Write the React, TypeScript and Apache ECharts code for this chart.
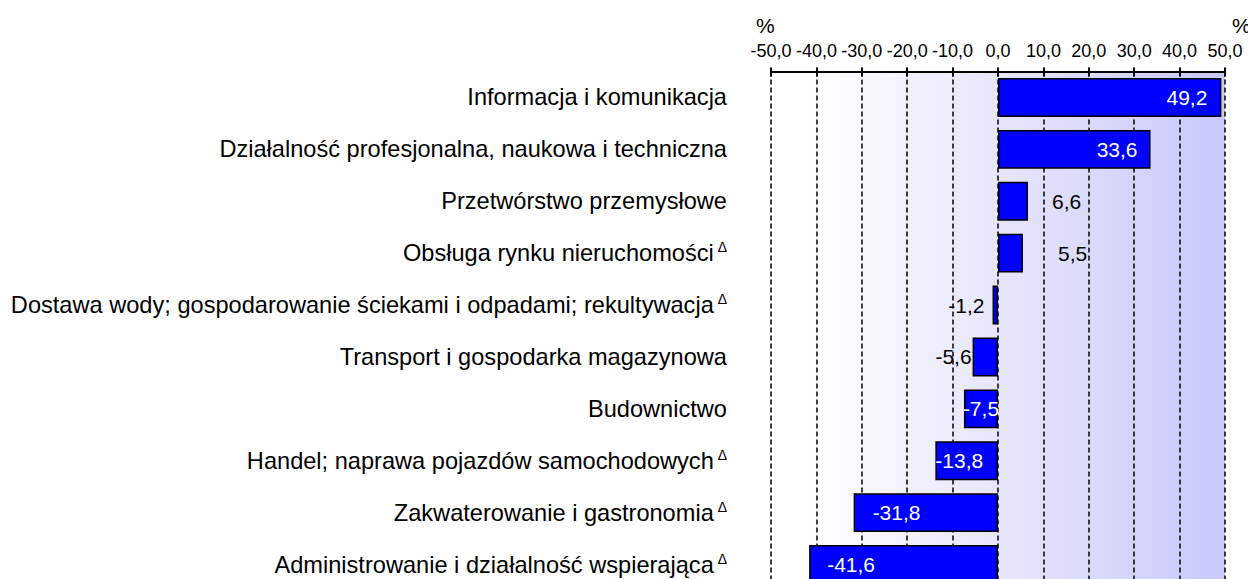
import React, { useEffect, useRef } from "react";
import * as echarts from "echarts";

const categories = [
  "Informacja i komunikacja",
  "Działalność profesjonalna, naukowa i techniczna",
  "Przetwórstwo przemysłowe",
  "Obsługa rynku nieruchomości",
  "Dostawa wody; gospodarowanie ściekami i odpadami; rekultywacja",
  "Transport i gospodarka magazynowa",
  "Budownictwo",
  "Handel; naprawa pojazdów samochodowych",
  "Zakwaterowanie i gastronomia",
  "Administrowanie i działalność wspierająca",
];
const deltaFlags = [false, false, false, true, true, false, false, true, true, true];
const values = [49.2, 33.6, 6.6, 5.5, -1.2, -5.6, -7.5, -13.8, -31.8, -41.6];
// label placement per bar: [position, distance, color]
const labelPlacement: [string, number, string][] = [
  ["insideRight", 14, "#ffffff"],
  ["insideRight", 13, "#ffffff"],
  ["right", 24, "#000000"],
  ["right", 35, "#000000"],
  ["left", 8, "#000000"],
  ["left", 1, "#000000"],
  ["inside", 0, "#ffffff"],
  ["insideLeft", 0, "#ffffff"],
  ["insideLeft", 19, "#ffffff"],
  ["insideLeft", 18, "#ffffff"],
];
const axisMin = -50;
const axisMax = 50;
const axisStep = 10;

const fmt = (v: number) => v.toFixed(1).replace(".", ",");

export default function App() {
  const ref = useRef<HTMLDivElement>(null);
  useEffect(() => {
    const chart = echarts.init(ref.current!, null, { renderer: "svg" });
    const font = "Liberation Sans, Arial, sans-serif";
    chart.setOption({
      animation: false,
      textStyle: { fontFamily: font },
      grid: { left: 771, right: 23, top: 71.5, height: 519, containLabel: false },
      xAxis: [
        {
          type: "value",
          position: "top",
          min: axisMin,
          max: axisMax,
          interval: axisStep,
          axisLine: { show: true, lineStyle: { color: "#000", width: 2 } },
          axisTick: { show: true, length: 4, lineStyle: { color: "#000", width: 2 } },
          axisLabel: {
            color: "#000",
            fontSize: 18,
            fontFamily: font,
            margin: 12,
            formatter: (v: number) => fmt(v),
          },
          splitLine: {
            show: true,
            lineStyle: { color: "#000", type: [5, 3], width: 1.5 },
          },
        },
        {
          type: "value",
          position: "top",
          min: axisMin,
          max: axisMax,
          interval: axisStep,
          axisLine: { show: false },
          axisTick: { show: true, inside: true, length: 5, lineStyle: { color: "#000", width: 2 } },
          axisLabel: { show: false },
          splitLine: { show: false },
        },
      ],
      yAxis: {
        type: "category",
        inverse: true,
        data: categories.map((c, i) => (deltaFlags[i] ? c + "{d| Δ}" : c)),
        axisLine: { show: false },
        axisTick: { show: false },
        axisLabel: {
          color: "#000",
          fontSize: 23.6,
          fontFamily: font,
          margin: 44,
          rich: {
            d: { fontSize: 14, verticalAlign: "top", padding: [0, 0, 12, 0], color: "#000", fontFamily: font },
          },
        },
        splitArea: { show: false },
      },
      graphic: [
        {
          type: "rect",
          z: -10,
          shape: { x: 771, y: 71.5, width: 454, height: 519 },
          style: {
            fill: new echarts.graphic.LinearGradient(0, 0, 1, 0, [
              { offset: 0, color: "#ffffff" },
              { offset: 0.08, color: "#ffffff" },
              { offset: 0.5, color: "#e6e6fa" },
              { offset: 1, color: "#c8c8fb" },
            ]),
          },
        },
        { type: "text", x: 756, y: 15, style: { text: "%", fontSize: 21, fontFamily: font, fill: "#000" } },
        { type: "text", x: 1232, y: 15, style: { text: "%", fontSize: 21, fontFamily: font, fill: "#000" } },
      ],
      series: [
        {
          type: "bar",
          xAxisIndex: 0,
          barCategoryGap: "25%",
          itemStyle: { color: "#0000ff", borderColor: "#000", borderWidth: 1.5 },
          data: values.map((v, i) => ({
            value: v,
            label: {
              show: true,
              position: labelPlacement[i][0],
              distance: labelPlacement[i][1],
              color: labelPlacement[i][2],
              fontSize: 21,
              fontFamily: font,
              formatter: () => fmt(v),
            },
          })),
        },
      ],
    });
    return () => chart.dispose();
  }, []);
  return (
    <div
      style={{ position: "absolute", left: 0, top: 0, width: 1248, height: 579, overflow: "hidden", background: "#fff" }}
    >
      <div ref={ref} style={{ width: 1248, height: 600 }} />
    </div>
  );
}
